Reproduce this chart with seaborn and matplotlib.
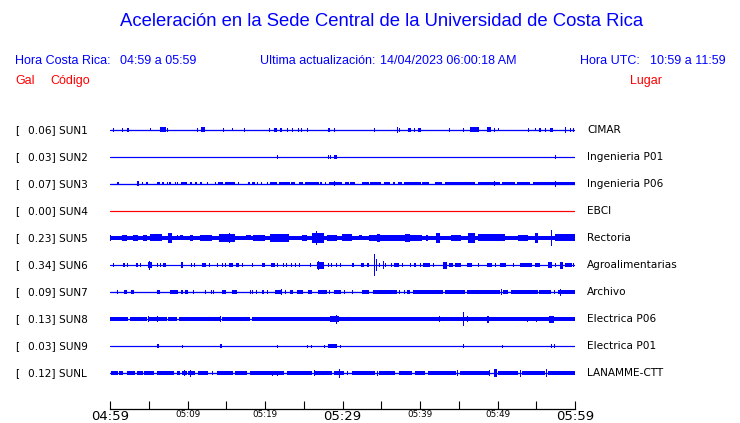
import matplotlib
matplotlib.use('Agg')
import matplotlib.pyplot as plt
import seaborn as sns
import pandas as pd

# Estaciones (de arriba hacia abajo)
codes = ['SUN1', 'SUN2', 'SUN3', 'SUN4', 'SUN5', 'SUN6', 'SUN7', 'SUN8', 'SUN9', 'SUNL']
peaks = [0.06, 0.03, 0.07, 0.00, 0.23, 0.34, 0.09, 0.13, 0.03, 0.12]
places = ['CIMAR', 'Ingenieria P01', 'Ingenieria P06', 'EBCI', 'Rectoria',
          'Agroalimentarias', 'Archivo', 'Electrica P06', 'Electrica P01', 'LANAMME-CTT']

# Eje de tiempo: minutos desde las 04:59
tick_minutes = list(range(0, 61, 5))
tick_labels = ['04:59', '', '05:09', '', '05:19', '', '05:29', '', '05:39', '', '05:49', '', '05:59']

# Rafagas: (minuto inicial, duracion en minutos, altura en px)
sun1 = [(0.43, 0.13, 4), (1.5, 0.13, 4), (2.15, 0.13, 4), (2.36, 0.13, 4), (5.16, 0.13, 3),
        (6.45, 0.74, 5), (7.4, 0.13, 4), (11.19, 0.13, 4), (11.74, 0.52, 5), (14.6, 0.13, 4),
        (15.8, 0.13, 3), (17.3, 0.13, 4), (20.5, 0.13, 4), (21.2, 0.35, 4), (21.97, 0.25, 4),
        (22.8, 0.13, 4), (23.5, 0.13, 4), (24.2, 0.13, 4), (24.6, 0.13, 4), (25.4, 0.13, 4),
        (28.1, 0.3, 4), (28.9, 0.13, 4), (34.1, 0.13, 4), (37.0, 0.13, 6), (37.3, 0.13, 4),
        (38.5, 0.3, 4), (39.2, 0.13, 4), (39.8, 0.35, 4), (43.7, 0.13, 4), (45.5, 0.13, 4),
        (46.5, 1.15, 5), (48.6, 0.55, 5), (49.6, 0.13, 4), (50.1, 0.13, 3), (53.9, 0.13, 4),
        (54.8, 0.13, 3), (55.3, 0.3, 4), (56.1, 0.13, 4), (56.8, 0.35, 4), (58.7, 0.13, 6),
        (59.3, 0.13, 4), (59.7, 0.13, 4)]
sun2 = [(21.6, 0.13, 4), (28.1, 0.13, 4), (28.4, 0.13, 4), (28.9, 0.4, 4), (57.4, 0.13, 4)]
sun3 = [(0.94, 0.22, 3), (3.45, 0.34, 5), (4.09, 0.13, 3), (4.65, 0.3, 3), (6.03, 0.43, 3),
        (6.67, 0.34, 3), (7.3, 0.13, 3), (7.65, 0.18, 3), (8.39, 0.13, 3), (8.6, 0.13, 3),
        (9.12, 0.77, 3), (10.32, 0.22, 3), (10.97, 0.3, 3), (11.61, 0.22, 3), (12.48, 0.2, 3),
        (13.55, 0.13, 3), (13.97, 0.65, 3), (14.84, 1.29, 3), (16.55, 0.13, 3), (17.85, 0.22, 3),
        (18.28, 0.43, 3), (18.93, 0.13, 3), (19.45, 0.13, 3), (20.26, 0.13, 3), (20.68, 0.86, 3),
        (21.77, 1.42, 3), (23.4, 0.44, 3), (24.43, 0.44, 3), (25.2, 1.73, 3), (27.14, 0.22, 3),
        (27.78, 0.13, 3), (28.22, 1.72, 3), (28.94, 0.13, 5), (30.28, 0.6, 3), (31.0, 0.57, 3),
        (32.52, 0.86, 3), (33.59, 1.42, 3), (35.3, 0.85, 3), (36.48, 0.34, 3), (37.16, 0.52, 3),
        (37.9, 0.13, 3), (38.1, 2.06, 3), (40.3, 0.9, 3), (41.9, 1.0, 3), (43.2, 3.9, 3),
        (47.5, 2.8, 3), (49.5, 0.13, 5), (50.6, 1.7, 3), (52.5, 1.7, 3), (54.6, 5.4, 3),
        (57.4, 0.13, 6)]
sun4 = []
sun5 = [(0.0, 0.13, 6), (1.5, 0.65, 6), (3.0, 0.65, 6), (4.3, 0.45, 6), (5.16, 1.5, 7),
        (7.5, 0.45, 10), (8.6, 0.13, 5), (9.0, 0.43, 5), (10.3, 0.43, 6), (11.6, 1.5, 6),
        (14.0, 2.15, 8), (15.35, 0.13, 10), (17.6, 0.65, 5), (18.5, 1.5, 6), (20.7, 2.4, 8),
        (23.7, 0.13, 4), (24.8, 0.65, 6), (26.1, 1.5, 10), (26.6, 0.13, 14), (28.0, 1.3, 6),
        (29.9, 1.3, 7), (32.1, 0.43, 5), (33.4, 6.9, 6), (34.45, 0.4, 8), (38.1, 0.65, 8),
        (40.8, 0.25, 6), (42.1, 0.5, 10), (44.0, 1.3, 6), (46.2, 0.85, 10), (47.5, 3.45, 7),
        (52.6, 1.3, 6), (54.8, 0.43, 10), (56.9, 0.13, 16), (57.4, 2.6, 7)]
sun6 = [(0.43, 0.13, 4), (1.72, 0.22, 4), (2.23, 0.13, 4), (3.35, 0.3, 4), (3.87, 0.13, 4),
        (4.94, 0.44, 6), (5.07, 0.13, 9), (6.1, 0.13, 4), (6.45, 0.13, 4), (6.8, 0.43, 4),
        (9.12, 0.26, 6), (10.4, 0.13, 4), (10.9, 0.13, 4), (11.9, 0.44, 4), (12.8, 0.13, 4),
        (13.8, 0.13, 4), (14.5, 0.13, 4), (14.9, 0.13, 4), (15.35, 0.48, 4), (16.26, 0.39, 4),
        (17.0, 0.13, 4), (18.3, 0.13, 4), (19.6, 0.34, 4), (20.8, 0.43, 4), (21.6, 0.13, 4),
        (22.3, 0.13, 4), (22.7, 0.13, 4), (23.3, 0.13, 4), (23.9, 0.13, 4), (24.4, 0.13, 4),
        (25.8, 0.13, 4), (26.7, 0.86, 7), (26.9, 0.13, 9), (28.1, 0.13, 4), (28.5, 0.13, 4),
        (29.1, 0.13, 4), (29.7, 0.13, 4), (31.2, 0.34, 4), (32.4, 0.34, 4), (33.2, 0.22, 4),
        (34.1, 0.13, 22), (34.36, 0.13, 12), (34.67, 0.2, 4), (35.2, 0.13, 8), (35.5, 0.13, 4),
        (36.2, 0.13, 4), (36.6, 0.65, 4), (37.7, 0.13, 4), (38.75, 0.13, 4), (39.2, 0.3, 4),
        (39.96, 0.13, 4), (40.4, 0.86, 4), (41.7, 0.13, 4), (43.0, 0.43, 7), (43.8, 0.43, 4),
        (44.5, 0.77, 4), (46.0, 0.73, 4), (47.5, 0.13, 4), (48.6, 0.65, 4), (49.7, 0.13, 4),
        (50.3, 0.85, 4), (52.0, 0.13, 4), (52.9, 1.5, 4), (54.8, 0.65, 4), (56.5, 0.52, 6),
        (57.4, 0.13, 4), (58.0, 0.43, 7), (58.7, 0.85, 4), (59.7, 0.13, 4)]
sun7 = [(0.86, 0.13, 4), (1.85, 0.3, 4), (2.7, 0.43, 4), (6.0, 0.13, 4), (6.15, 0.3, 4),
        (7.74, 1.0, 4), (9.16, 0.3, 4), (9.68, 0.43, 4), (10.75, 0.13, 4), (12.26, 0.13, 4),
        (13.03, 0.13, 4), (13.3, 0.13, 4), (14.5, 0.44, 4), (15.7, 0.13, 4), (15.9, 0.44, 4),
        (18.0, 0.13, 4), (18.3, 0.2, 4), (18.9, 0.13, 4), (19.6, 0.13, 4), (19.8, 0.13, 4),
        (20.3, 0.13, 4), (21.3, 0.86, 4), (22.06, 0.13, 6), (22.6, 0.13, 4), (23.26, 0.3, 4),
        (24.1, 0.74, 4), (25.5, 0.6, 4), (26.8, 1.25, 4), (28.2, 0.13, 4), (28.9, 0.94, 4),
        (30.15, 0.13, 4), (31.2, 0.13, 4), (32.5, 0.86, 4), (33.9, 3.1, 4), (37.25, 0.13, 4),
        (37.9, 0.13, 4), (38.3, 0.43, 4), (39.06, 3.9, 4), (43.2, 2.58, 4), (46.0, 0.13, 4),
        (46.2, 4.1, 4), (50.5, 0.13, 6), (50.7, 0.65, 4), (51.8, 3.45, 4), (55.4, 1.5, 4),
        (57.3, 0.13, 4), (57.8, 2.2, 4), (58.0, 0.13, 7)]
sun8 = [(0.0, 2.36, 4), (2.58, 2.15, 4), (4.86, 0.13, 6), (4.94, 1.08, 4), (6.0, 0.13, 6),
        (6.23, 1.08, 4), (7.52, 1.08, 4), (8.9, 5.3, 4), (14.2, 0.13, 6), (14.4, 3.65, 4),
        (18.3, 41.7, 4), (28.4, 1.1, 6), (29.1, 0.13, 9), (42.5, 0.13, 6), (45.5, 0.13, 14),
        (46.1, 0.13, 6), (48.6, 0.35, 7), (53.8, 0.13, 5), (55.0, 0.13, 5), (56.7, 0.6, 7)]
sun9 = [(6.0, 0.3, 4), (9.3, 0.13, 3), (14.2, 0.3, 4), (21.6, 0.13, 3), (25.4, 0.13, 3),
        (25.9, 0.13, 3), (27.6, 0.13, 3), (28.1, 1.2, 4), (29.7, 0.13, 3), (45.5, 0.13, 4),
        (50.6, 0.13, 3), (56.9, 0.13, 4), (57.3, 0.13, 4)]
sunl = [(0.13, 0.94, 4), (1.2, 0.52, 4), (2.15, 1.07, 4), (3.52, 0.7, 4), (4.43, 1.29, 4),
        (6.03, 0.65, 4), (6.75, 1.55, 4), (8.6, 0.43, 4), (9.25, 0.65, 4), (9.55, 0.13, 6),
        (10.0, 0.94, 4), (10.3, 0.13, 7), (11.4, 1.29, 4), (13.1, 0.13, 4), (13.77, 2.15, 4),
        (16.13, 1.5, 4), (18.06, 4.35, 4), (20.9, 0.13, 5), (21.5, 0.13, 5), (22.84, 3.23, 4),
        (26.3, 0.13, 6), (26.5, 2.15, 4), (28.86, 1.29, 4), (29.6, 0.13, 9), (30.6, 0.13, 4),
        (31.2, 3.0, 4), (34.4, 0.13, 5), (34.67, 2.14, 4), (37.25, 1.72, 4), (39.4, 1.2, 4),
        (41.0, 3.65, 4), (44.8, 0.13, 6), (45.1, 3.87, 4), (48.9, 0.13, 6), (49.6, 0.3, 8),
        (50.06, 2.58, 4), (52.9, 0.13, 7), (53.1, 3.0, 4), (56.3, 0.13, 8), (56.5, 3.5, 4)]
bursts = [sun1, sun2, sun3, sun4, sun5, sun6, sun7, sun8, sun9, sunl]

# Estilo
BLUE = '#0000ff'
RED = '#ff0000'
ROW = 27                      # separacion entre trazas (px)
base_px = [1.3, 1.2, 1.3, 1.2, 4.0, 1.2, 1.3, 1.3, 1.2, 1.3]
W, H = 740, 423

sns.set_style('white')
plt.rcParams['font.family'] = ['DejaVu Sans']

fig = plt.figure(figsize=(W / 100, H / 100), dpi=100)
ax = fig.add_axes([110 / W, (H - 409) / H, 465 / W, (409 - 115) / H])

for i, code in enumerate(codes):
    yc = i * ROW
    color = RED if peaks[i] == 0 else BLUE
    sns.lineplot(x=[0, 60], y=[yc, yc], ax=ax, color=color, linewidth=base_px[i] * 0.72)
    if bursts[i]:
        b = pd.DataFrame(bursts[i], columns=['t', 'w', 'h'])
        ax.bar(b['t'], b['h'], width=b['w'], bottom=yc - b['h'] / 2, align='edge',
               color=color, linewidth=0, antialiased=False)

ax.set_xlim(0, 60)
ax.set_ylim(409 - 130, 115 - 130)
ax.set_yticks([])
ax.set_xticks(tick_minutes)
ax.set_xticklabels(tick_labels)
ax.tick_params(axis='x', bottom=True, direction='in', length=5.8, width=0.8, pad=1,
               colors='black')
for lab, m in zip(ax.get_xticklabels(), tick_minutes):
    lab.set_fontsize(9.5 if m % 30 == 0 else 6.3)
for s in ['top', 'left', 'right']:
    ax.spines[s].set_visible(False)
ax.spines['bottom'].set_color('black')
ax.spines['bottom'].set_linewidth(0.9)
ax.set_xlabel('')
ax.set_ylabel('')


def px_text(x, y, s, **kw):
    fig.text(x / W, 1 - y / H, s, va='center', **kw)


# Encabezado
hdr = dict(family=['Liberation Sans', 'DejaVu Sans'], fontsize=9)
px_text(381.5, 22, 'Aceleración en la Sede Central de la Universidad de Costa Rica',
        ha='center', color=BLUE, family=['Liberation Sans', 'DejaVu Sans'], fontsize=13.3)
px_text(15, 61, 'Hora Costa Rica:', color=BLUE, **hdr)
px_text(120, 61, '04:59 a 05:59', color=BLUE, **hdr)
px_text(260, 61, 'Ultima actualización:', color=BLUE, **hdr)
px_text(380, 61, '14/04/2023 06:00:18 AM', color=BLUE, **hdr)
px_text(580, 61, 'Hora UTC:', color=BLUE, **hdr)
px_text(650, 61, '10:59 a 11:59', color=BLUE, **hdr)
px_text(15, 81, 'Gal', color=RED, **hdr)
px_text(50.5, 81, 'Código', color=RED, **hdr)
px_text(630, 81, 'Lugar', color=RED, **hdr)

# Etiquetas de las trazas
for i, code in enumerate(codes):
    y = 130 + i * ROW
    px_text(15, y, '[', color='black', fontsize=7.6)
    px_text(27.5, y, f'{peaks[i]:.2f}] {code}', color='black', fontsize=7.6)
    px_text(587, y, places[i], color='black', fontsize=7.6)

fig.savefig('out.png', dpi=100)
